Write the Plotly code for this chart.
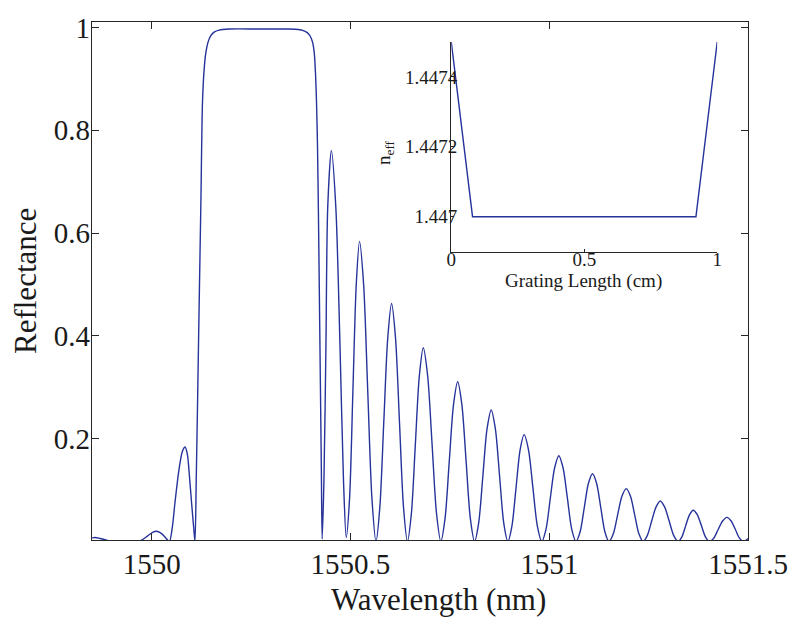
import plotly.graph_objects as go

# Main spectrum: wavelength (nm) and reflectance
wavelength = [
    1549.8504, 1549.8579, 1549.8703, 1549.8853, 1549.9027, 1549.9651, 1549.9776, 1549.9900,
    1550.0025, 1550.0125, 1550.0224, 1550.0324, 1550.0399, 1550.0449, 1550.0524, 1550.0586,
    1550.0686, 1550.0773, 1550.0840, 1550.0898, 1550.0948, 1550.1005, 1550.1060, 1550.1090,
    1550.1122, 1550.1155, 1550.1197, 1550.1239, 1550.1279, 1550.1322, 1550.1364, 1550.1421,
    1550.1489, 1550.1571, 1550.1696, 1550.1945, 1550.2693, 1550.3441, 1550.3691, 1550.3815,
    1550.3915, 1550.3990, 1550.4052, 1550.4090, 1550.4122, 1550.4147, 1550.4172, 1550.4195,
    1550.4219, 1550.4244, 1550.4269, 1550.4289,
    1550.4334, 1550.4384, 1550.4429, 1550.4521, 1550.4633, 1550.4738, 1550.4825, 1550.4895,
    1550.4979, 1550.5062, 1550.5146, 1550.5229, 1550.5333, 1550.5436, 1550.5540, 1550.5643,
    1550.5741, 1550.5839, 1550.5938, 1550.6035, 1550.6135, 1550.6234, 1550.6334, 1550.6434,
    1550.6534, 1550.6633, 1550.6733, 1550.6833, 1550.6943, 1550.7054, 1550.7165, 1550.7274,
    1550.7380, 1550.7486, 1550.7592, 1550.7698, 1550.7804, 1550.7910, 1550.8016, 1550.8122,
    1550.8227, 1550.8332, 1550.8436, 1550.8541, 1550.8646, 1550.8751, 1550.8855, 1550.8960,
    1550.9062, 1550.9165, 1550.9267, 1550.9369, 1550.9480, 1550.9591, 1550.9702, 1550.9813,
    1550.9920, 1551.0027, 1551.0135, 1551.0242, 1551.0349, 1551.0458, 1551.0566, 1551.0673,
    1551.0778, 1551.0882, 1551.0985, 1551.1090, 1551.1193, 1551.1297, 1551.1400, 1551.1504,
    1551.1612, 1551.1721, 1551.1829, 1551.1938, 1551.2044, 1551.2150, 1551.2256, 1551.2362,
    1551.2469, 1551.2577, 1551.2686, 1551.2793, 1551.2905, 1551.3017, 1551.3130, 1551.3242,
    1551.3337, 1551.3433, 1551.3529, 1551.3623, 1551.3726, 1551.3828, 1551.3930, 1551.4032,
    1551.4142, 1551.4252, 1551.4362, 1551.4471, 1551.4576, 1551.4680, 1551.4783, 1551.4888,
    1551.5000,
]
reflectance = [
    0.007, 0.008, 0.006, 0.003, 0.000, 0.000, 0.004, 0.011,
    0.018, 0.020, 0.017, 0.010, 0.003, 0.000, 0.030, 0.075,
    0.139, 0.175, 0.184, 0.170, 0.130, 0.075, 0.025, 0.000,
    0.120, 0.270, 0.470, 0.661, 0.855, 0.920, 0.951, 0.972,
    0.984, 0.991, 0.995, 0.997, 0.997, 0.997, 0.996, 0.994,
    0.990, 0.983, 0.970, 0.951, 0.910, 0.855, 0.770, 0.640,
    0.480, 0.310, 0.140, 0.005,
    0.120, 0.380, 0.650, 0.761, 0.650, 0.380, 0.120, 0.008,
    0.085, 0.292, 0.499, 0.584, 0.499, 0.292, 0.085, 0.000,
    0.068, 0.232, 0.395, 0.463, 0.395, 0.232, 0.068, 0.000,
    0.055, 0.189, 0.322, 0.377, 0.322, 0.189, 0.055, 0.000,
    0.045, 0.156, 0.266, 0.311, 0.266, 0.156, 0.045, 0.000,
    0.037, 0.128, 0.219, 0.256, 0.219, 0.128, 0.037, 0.000,
    0.030, 0.104, 0.178, 0.208, 0.178, 0.104, 0.030, 0.000,
    0.024, 0.084, 0.143, 0.167, 0.143, 0.084, 0.024, 0.000,
    0.019, 0.066, 0.113, 0.132, 0.113, 0.066, 0.019, 0.000,
    0.015, 0.052, 0.088, 0.103, 0.088, 0.052, 0.015, 0.000,
    0.012, 0.040, 0.067, 0.079, 0.067, 0.040, 0.012, 0.000,
    0.009, 0.031, 0.052, 0.061, 0.052, 0.031, 0.009, 0.000,
    0.007, 0.024, 0.040, 0.047, 0.040, 0.024, 0.007, 0.000,
    0.006,
]

# Inset: effective index profile along the grating
grating_length = [0.0, 0.08, 0.92, 1.0]
n_eff = [1.4475, 1.4470, 1.4470, 1.4475]

main_xticks = [1550, 1550.5, 1551, 1551.5]
main_xticklabels = ["1550", "1550.5", "1551", "1551.5"]
main_yticks = [0.2, 0.4, 0.6, 0.8, 1.0]
main_yticklabels = ["0.2", "0.4", "0.6", "0.8", "1"]
inset_xticks = [0, 0.5, 1]
inset_xticklabels = ["0", "0.5", "1"]
inset_yticks = [1.4470, 1.4472, 1.4474]
inset_yticklabels = ["1.447", "1.4472", "1.4474"]

FONT = "Liberation Serif"
TXT = "#1a1a1a"
AX = "#262626"
LINE = "#26339a"

fig = go.Figure()
fig.add_trace(go.Scatter(
    x=wavelength, y=reflectance, mode="lines",
    line=dict(color=LINE, width=1.4, shape="spline", smoothing=0.8),
    xaxis="x", yaxis="y", showlegend=False,
))
fig.add_trace(go.Scatter(
    x=grating_length, y=n_eff, mode="lines",
    line=dict(color=LINE, width=1.4),
    xaxis="x2", yaxis="y2", showlegend=False,
))

L, R, T, B = 92, 47, 19, 82
W, H = 800, 622
pw, ph = W - L - R, H - T - B

def px(xp):
    return (xp - L) / pw

def py(yp):
    return (H - B - yp) / ph

fig.update_layout(
    width=W, height=H,
    margin=dict(l=L, r=R, t=T, b=B),
    paper_bgcolor="white", plot_bgcolor="white",
    font=dict(family=FONT, color=TXT),
    xaxis=dict(
        domain=[0, 1], range=[1549.85, 1551.5],
        tickvals=main_xticks, ticktext=main_xticklabels,
        tickfont=dict(size=29, family=FONT, color=TXT),
        ticks="inside", ticklen=7, tickwidth=1, tickcolor=AX,
        showline=True, linecolor=AX, linewidth=1.3, mirror="allticks",
        showgrid=False, zeroline=False, ticklabelstandoff=-2,
    ),
    yaxis=dict(
        domain=[0, 1], range=[0.003, 1.0107],
        tickvals=main_yticks, ticktext=main_yticklabels,
        tickfont=dict(size=29, family=FONT, color=TXT),
        ticks="inside", ticklen=7, tickwidth=1, tickcolor=AX,
        showline=True, linecolor=AX, linewidth=1.3, mirror="allticks",
        showgrid=False, zeroline=False, ticklabelstandoff=-5,
    ),
    xaxis2=dict(
        domain=[px(454), px(722)], range=[0, 1], anchor="y2",
        tickvals=inset_xticks, ticktext=inset_xticklabels,
        tickfont=dict(size=19, family=FONT, color=TXT),
        ticks="inside", ticklen=3, tickwidth=1, tickcolor=AX,
        showline=True, linecolor=AX, linewidth=1.3, mirror=False,
        showgrid=False, zeroline=False, ticklabelstandoff=-10,
    ),
    yaxis2=dict(
        domain=[py(250), py(39)], range=[1.4469, 1.4475], anchor="x2",
        tickvals=inset_yticks, ticktext=inset_yticklabels,
        tickfont=dict(size=19, family=FONT, color=TXT),
        ticks="inside", ticklen=3, tickwidth=1, tickcolor=AX,
        showline=True, linecolor=AX, linewidth=1.3, mirror=False,
        showgrid=False, zeroline=False, ticklabelstandoff=-11,
    ),
    annotations=[
        dict(text="Wavelength (nm)", x=px(441), y=py(600), xref="paper", yref="paper",
             showarrow=False, xanchor="center", yanchor="middle",
             font=dict(size=31, family=FONT, color=TXT)),
        dict(text="Reflectance", x=px(25), y=py(280), xref="paper", yref="paper",
             showarrow=False, xanchor="center", yanchor="middle", textangle=-90,
             font=dict(size=31, family=FONT, color=TXT)),
        dict(text="Grating Length (cm)", x=px(587.5), y=py(279), xref="paper", yref="paper",
             showarrow=False, xanchor="center", yanchor="middle",
             font=dict(size=19, family=FONT, color=TXT)),
        dict(text="n<sub>eff</sub>", x=px(387), y=py(150), xref="paper", yref="paper",
             showarrow=False, xanchor="center", yanchor="middle", textangle=-90,
             font=dict(size=19, family=FONT, color=TXT)),
    ],
)

fig.write_html("out.html")
